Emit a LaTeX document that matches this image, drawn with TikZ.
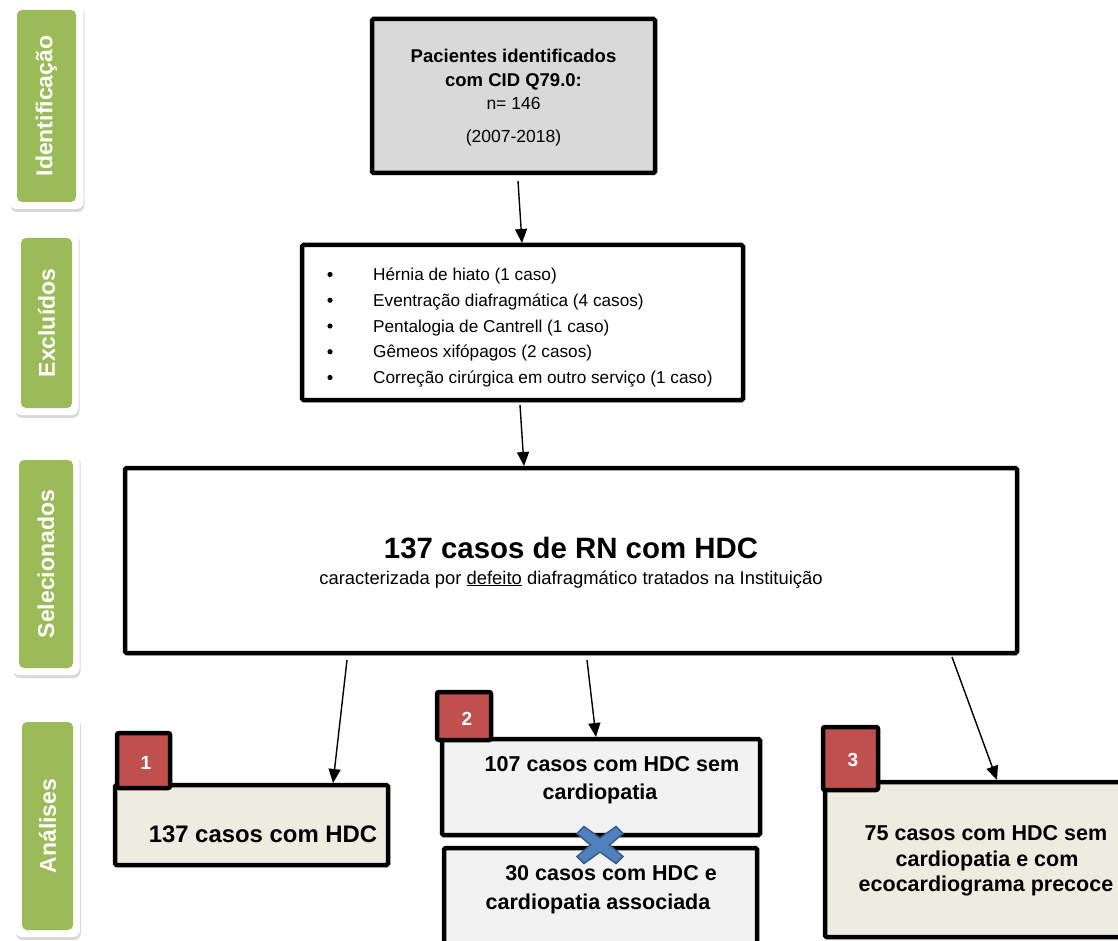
\documentclass[tikz,border=0pt]{standalone}
\usepackage{fontspec}
\setmainfont{Liberation Sans}
\usetikzlibrary{arrows.meta,shadows}
\definecolor{boxgray}{HTML}{D9D9D9}
\definecolor{beige}{HTML}{EEECE1}
\definecolor{paleg}{HTML}{F2F2F2}
\definecolor{badgered}{HTML}{C0504D}
\definecolor{sidegreen}{HTML}{9BBB59}
\definecolor{xblue}{HTML}{4F81BD}
\definecolor{xblueline}{HTML}{385D8A}
\begin{document}
\begin{tikzpicture}[x=1pt,y=-1pt,
  box/.style={draw=black, line width=4.5pt, rounded corners=1.5pt, inner sep=0pt,
    drop shadow={opacity=0.22,shadow xshift=2pt,shadow yshift=-2.5pt}},
  badge/.style={draw=black, fill=badgered, line width=4.5pt, rounded corners=2pt, inner sep=0pt},
  badgetext/.style={text=white, font=\fontsize{19}{21}\selectfont\bfseries},
  sideframe/.style={fill=white, rounded corners=7pt, inner sep=0pt,
    drop shadow={opacity=0.3,shadow xshift=1pt,shadow yshift=-3pt}},
  sidebox/.style={fill=sidegreen, rounded corners=5pt, inner sep=0pt},
  sidetext/.style={text=white, rotate=90, font=\fontsize{23}{26}\selectfont\bfseries},
  boldtxt/.style={anchor=base, inner sep=0pt, font=\fontsize{18.5}{22}\selectfont\bfseries},
  regtxt/.style={anchor=base, inner sep=0pt, font=\fontsize{17.5}{20}\selectfont},
  listtxt/.style={anchor=base west, inner sep=0pt, font=\fontsize{17.2}{20}\selectfont},
  anatxt/.style={anchor=base, inner sep=0pt, font=\fontsize{21.5}{24}\selectfont\bfseries},
  arr/.style={line width=1.4pt, -{Triangle[length=14pt,width=12pt]}}
]
\useasboundingbox (0,0) rectangle (1118,941);
\clip (0,0) rectangle (1118,941);
\fill[white] (0,0) rectangle (1118,941);

% side labels
\node[sideframe, minimum width=74pt, minimum height=206pt] (f1) at (46.5,106) {};
\node[sidebox, minimum width=59pt, minimum height=192pt] (l1) at (46.5,106) {};
\node[sidetext] (t1) at (l1.center) {Identificação};

\node[sideframe, minimum width=64pt, minimum height=184pt] (f2) at (46.5,323) {};
\node[sidebox, minimum width=51pt, minimum height=170pt] (l2) at (46.5,323) {};
\node[sidetext] (t2) at (l2.center) {Excluídos};

\node[sideframe, minimum width=67pt, minimum height=222pt] (f3) at (46,564) {};
\node[sidebox, minimum width=54pt, minimum height=208pt] (l3) at (46,564) {};
\node[sidetext] (t3) at (l3.center) {Selecionados};

\node[sideframe, minimum width=65pt, minimum height=222pt] (f4) at (47.5,826) {};
\node[sidebox, minimum width=51pt, minimum height=208pt] (l4) at (47.5,826) {};
\node[sidetext] (t4) at (l4.center) {Análises};

% top box
\node[box, fill=boxgray, minimum width=283pt, minimum height=154pt] (pac) at (513.5,96) {};
\node[boldtxt] (p1) at (513.5,63) {Pacientes identificados};
\node[boldtxt] (p2) at (513.5,87) {com CID Q79.0:};
\node[regtxt] (p3) at (513.5,110) {n= 146};
\node[regtxt] (p4) at (513.5,143) {(2007-2018)};

% excluded
\node[box, fill=white, minimum width=441pt, minimum height=155pt] (exc) at (522.5,322.5) {};
\foreach \i/\t in {0/{Hérnia de hiato (1 caso)},1/{Eventração diafragmática (4 casos)},2/{Pentalogia de Cantrell (1 caso)},3/{Gêmeos xifópagos (2 casos)},4/{Correção cirúrgica em outro serviço (1 caso)}}{
  \fill (330,{274.5+25.75*\i}) circle (2.6pt);
  \node[listtxt] (e\i) at (373,{280.5+25.75*\i}) {\t};
}

% selected
\node[box, fill=white, minimum width=892pt, minimum height=185pt] (sel) at (571,560.5) {};
\node[anchor=base, inner sep=0pt, font=\fontsize{29.4}{32}\selectfont\bfseries] (s1) at (571,558) {137 casos de RN com HDC};
\node[anchor=base, inner sep=0pt, font=\fontsize{18.4}{20}\selectfont] (s2) at (571,584) {caracterizada por \underline{defeito} diafragmático tratados na Instituição};

% analysis 1
\node[box, fill=beige, minimum width=273pt, minimum height=80pt] (a1) at (251.5,825) {};
\node[anchor=base, inner sep=0pt, font=\fontsize{23.9}{26}\selectfont\bfseries] (a1t) at (263,842) {137 casos com HDC};
\node[badge, minimum width=53pt, minimum height=55pt] (b1) at (143.5,760.5) {};
\node[badgetext] (b1t) at (146,763) {1};

% analysis 2
\node[box, fill=paleg, minimum width=318pt, minimum height=96pt] (a2) at (601,787) {};
\node[anatxt] (a2t1) at (612,771) {107 casos com HDC sem};
\node[anatxt] (a2t2) at (600,799) {cardiopatia};
\node[box, fill=paleg, minimum width=313pt, minimum height=112pt] (a2b) at (600.5,904) {};
\node[anatxt] (a2bt1) at (611,880) {30 casos com HDC e};
\node[anatxt] (a2bt2) at (598,909) {cardiopatia associada};
\node[badge, minimum width=54pt, minimum height=48pt] (b2) at (464,716) {};
\node[badgetext] (b2t) at (467,719) {2};

% blue X
\begin{scope}[shift={(600,845)}]
\filldraw[fill=xblue, draw=xblueline, line width=1.5pt, line join=miter]
  (-23,-11.5) -- (-16,-18.5) -- (0,-7) -- (16,-18.5) -- (23,-11.5) -- (9.5,0) --
  (23,11.5) -- (16,18.5) -- (0,7) -- (-16,18.5) -- (-23,11.5) -- (-9.5,0) -- cycle;
\end{scope}

% analysis 3
\node[box, fill=beige, minimum width=305pt, minimum height=155pt] (a3) at (977.5,859.5) {};
\node[anatxt] (a3t1) at (986,840) {75 casos com HDC sem};
\node[anatxt] (a3t2) at (987,866.5) {cardiopatia e com};
\node[anatxt] (a3t3) at (986,891.5) {ecocardiograma precoce};
\node[badge, minimum width=55pt, minimum height=63pt] (b3) at (850.5,758.5) {};
\node[badgetext] (b3t) at (853,760) {3};

% arrows
\coordinate (c1s) at (518,181);
\coordinate (c1e) at (522,243);
\coordinate (c2s) at (520,405);
\coordinate (c2e) at (524,466);
\coordinate (c3s) at (347,660);
\coordinate (c3e) at (333,783);
\coordinate (c4s) at (587,660);
\coordinate (c4e) at (596,737);
\coordinate (c5s) at (952,657);
\coordinate (c5e) at (997,780);
\draw[arr] (c1s) -- (c1e);
\draw[arr] (c2s) -- (c2e);
\draw[arr] (c3s) -- (c3e);
\draw[arr] (c4s) -- (c4e);
\draw[arr] (c5s) -- (c5e);
\end{tikzpicture}
\end{document}
